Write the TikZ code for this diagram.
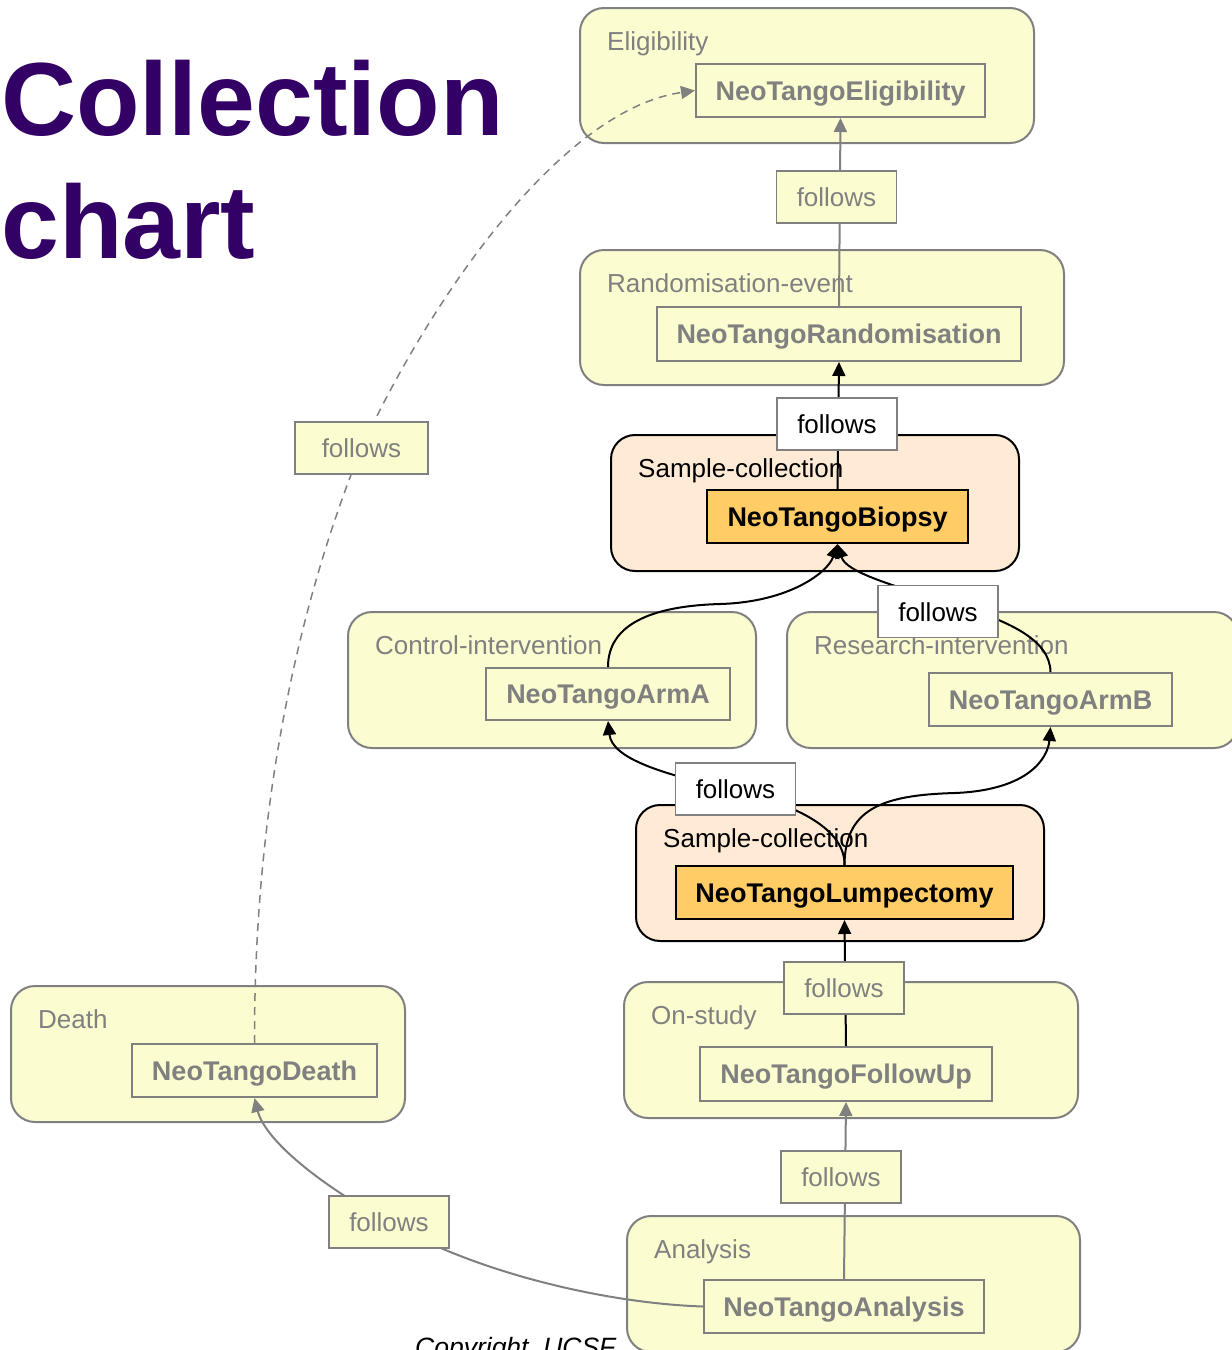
\documentclass[tikz,border=0pt]{standalone}
\usepackage{fontspec}
\setmainfont{Liberation Sans}
\usetikzlibrary{arrows.meta}
\definecolor{clyellow}{HTML}{FBFDD0}
\definecolor{peach}{HTML}{FFEBD5}
\definecolor{sampleorange}{HTML}{FFCC66}
\definecolor{edgegray}{HTML}{808080}
\definecolor{titlepurple}{HTML}{330066}
\newcommand{\lblfont}{\fontsize{26}{31}\selectfont}
\newcommand{\boxfont}{\fontsize{27}{32}\selectfont\bfseries}
\begin{document}
\begin{tikzpicture}[x=1pt,y=-1pt,
  cluster/.style={draw=edgegray, line width=2pt, rounded corners=24pt, fill=clyellow, inner sep=0pt},
  sampleclu/.style={cluster, draw=black, fill=peach},
  clabel/.style={anchor=base west, inner sep=0pt, text=edgegray, font=\lblfont},
  sclabel/.style={clabel, text=black},
  box/.style={draw=edgegray, line width=2pt, fill=clyellow, text=edgegray, font=\boxfont,
    inner sep=0pt, text height=19.5pt, text depth=0pt},
  samplebox/.style={box, draw=black, fill=sampleorange, text=black},
  tag/.style={draw=edgegray, line width=1.5pt, fill=clyellow, text=edgegray, font=\lblfont,
    minimum width=120pt, minimum height=52pt, inner sep=0pt, text height=19pt, text depth=0pt},
  whitetag/.style={tag, fill=white, text=black},
  edge/.style={line width=2pt, draw=edgegray, -{Triangle[length=14pt,width=13pt]}},
  blackedge/.style={edge, draw=black},
  dashededge/.style={edge, line width=1.5pt, dash pattern=on 8pt off 6pt}]
\useasboundingbox (0,0) rectangle (1232,1350);

% title
\node[anchor=base west, inner sep=0pt, text=titlepurple, font=\fontsize{104}{123}\selectfont\bfseries] (title1) at (1,135) {Collection};
\node[anchor=base west, inner sep=0pt, text=titlepurple, font=\fontsize{104}{123}\selectfont\bfseries] (title2) at (1,258) {chart};

% clusters
\node[cluster, minimum width=454pt, minimum height=135pt] (cElig) at (807,75.5) {};
\node[cluster, minimum width=484pt, minimum height=135pt] (cRand) at (822,317.5) {};
\node[sampleclu, minimum width=408pt, minimum height=136pt] (cBiop) at (815,503) {};
\node[cluster, minimum width=408pt, minimum height=136pt] (cCtrl) at (552,680) {};
\node[cluster, minimum width=451pt, minimum height=136pt] (cResr) at (1012.5,680) {};
\node[sampleclu, minimum width=408pt, minimum height=136pt] (cLump) at (840,873) {};
\node[cluster, minimum width=454pt, minimum height=136pt] (cOnst) at (851,1050) {};
\node[cluster, minimum width=453pt, minimum height=136pt] (cAnal) at (853.5,1284) {};
\node[cluster, minimum width=394pt, minimum height=136pt] (cDeath) at (208,1054) {};

% cluster titles
\node[clabel] (tElig) at (607,50) {Eligibility};
\node[clabel] (tRand) at (607,292) {Randomisation-event};
\node[sclabel] (tBiop) at (638,477) {Sample-collection};
\node[clabel] (tCtrl) at (375,654) {Control-intervention};
\node[clabel] (tResr) at (814,654) {Research-intervention};
\node[sclabel] (tLump) at (663,847) {Sample-collection};
\node[clabel] (tOnst) at (651,1024) {On-study};
\node[clabel] (tAnal) at (654,1258) {Analysis};
\node[clabel] (tDeath) at (38,1028) {Death};

% collection events
\node[box, minimum width=289pt, minimum height=53pt] (elig) at (840.5,90.5) {NeoTangoEligibility};
\node[box, minimum width=364pt, minimum height=54pt] (rand) at (839,334) {NeoTangoRandomisation};
\node[samplebox, minimum width=261pt, minimum height=53pt] (biop) at (837.5,516.5) {NeoTangoBiopsy};
\node[box, minimum width=244pt, minimum height=52pt] (armA) at (608,694) {NeoTangoArmA};
\node[box, minimum width=243pt, minimum height=53pt] (armB) at (1050.5,699.5) {NeoTangoArmB};
\node[samplebox, minimum width=337pt, minimum height=53pt] (lump) at (844.5,892.5) {NeoTangoLumpectomy};
\node[box, minimum width=292pt, minimum height=54pt] (fu) at (846,1074) {NeoTangoFollowUp};
\node[box, minimum width=280pt, minimum height=53pt] (anal) at (844,1306.5) {NeoTangoAnalysis};
\node[box, minimum width=245pt, minimum height=53pt] (death) at (254.5,1070.5) {NeoTangoDeath};

% connectors
\draw[edge] (rand.north) -- (elig.south);
\draw[blackedge] (biop.north) -- (rand.south);
\draw[blackedge] (armA.north) .. controls (608,625) and (650,606) .. (720,604)
  .. controls (790,602) and (828,572) .. (biop.south);
\draw[blackedge] (armB.north) .. controls (1050,640) and (1010,622) .. (960,606)
  .. controls (890,585) and (846,572) .. (biop.south);
\draw[blackedge] (lump.north) .. controls (845,830) and (800,806) .. (735,790)
  .. controls (660,774) and (612,758) .. (armA.south);
\draw[blackedge] (lump.north) .. controls (845,810) and (880,795) .. (955,793)
  .. controls (1030,790) and (1048,757) .. (armB.south);
\draw[blackedge] (fu.north) -- (lump.south);
\draw[edge] (anal.north) -- (fu.south);
\draw[edge] (anal.west) .. controls (600,1303) and (470,1270) .. (389,1222)
  .. controls (320,1185) and (265,1140) .. (death.south);
\draw[dashededge] (death.north) .. controls (254,800) and (300,600) .. (361.5,448)
  .. controls (430,300) and (560,110) .. (elig.west);

% connector labels
\node[tag] (f1) at (836.5,197) {follows};
\node[whitetag] (f2) at (837,424) {follows};
\node[whitetag] (f3) at (938,611.5) {follows};
\node[whitetag] (f4) at (735.5,789) {follows};
\node[tag] (f5) at (844,988) {follows};
\node[tag] (f6) at (841,1177) {follows};
\node[tag, minimum width=133pt] (f7) at (361.5,448) {follows};
\node[tag] (f8) at (389,1222) {follows};

% footer
\node[anchor=base west, inner sep=0pt, font=\fontsize{26.5}{30}\selectfont\itshape] (copy) at (415,1356) {Copyright\ \ UCSF};
\end{tikzpicture}
\end{document}
